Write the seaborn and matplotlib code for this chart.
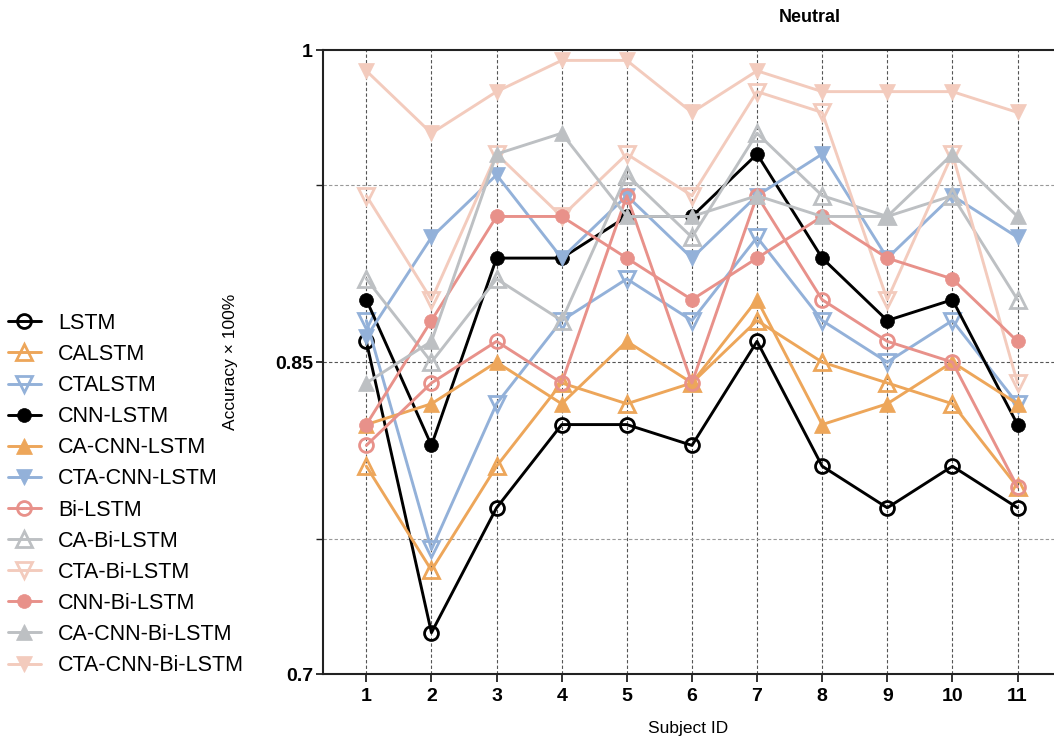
import numpy as np
import pandas as pd
import matplotlib
matplotlib.use("Agg")
import matplotlib.pyplot as plt
import seaborn as sns

subjects = [1, 2, 3, 4, 5, 6, 7, 8, 9, 10, 11]

models = ["LSTM", "CALSTM", "CTALSTM", "CNN-LSTM", "CA-CNN-LSTM", "CTA-CNN-LSTM",
          "Bi-LSTM", "CA-Bi-LSTM", "CTA-Bi-LSTM", "CNN-Bi-LSTM", "CA-CNN-Bi-LSTM",
          "CTA-CNN-Bi-LSTM"]

lstm = [0.86, 0.72, 0.78, 0.82, 0.82, 0.81, 0.86, 0.80, 0.78, 0.80, 0.78]
calstm = [0.80, 0.75, 0.80, 0.84, 0.83, 0.84, 0.87, 0.85, 0.84, 0.83, 0.79]
ctalstm = [0.87, 0.76, 0.83, 0.87, 0.89, 0.87, 0.91, 0.87, 0.85, 0.87, 0.83]
cnn_lstm = [0.88, 0.81, 0.90, 0.90, 0.92, 0.92, 0.95, 0.90, 0.87, 0.88, 0.82]
ca_cnn_lstm = [0.82, 0.83, 0.85, 0.83, 0.86, 0.84, 0.88, 0.82, 0.83, 0.85, 0.83]
cta_cnn_lstm = [0.862, 0.91, 0.94, 0.90, 0.93, 0.90, 0.93, 0.95, 0.90, 0.93, 0.91]
bi_lstm = [0.81, 0.84, 0.86, 0.84, 0.93, 0.84, 0.93, 0.88, 0.86, 0.85, 0.79]
ca_bi_lstm = [0.89, 0.85, 0.89, 0.87, 0.94, 0.91, 0.96, 0.93, 0.92, 0.93, 0.88]
cta_bi_lstm = [0.93, 0.88, 0.95, 0.92, 0.95, 0.93, 0.98, 0.97, 0.88, 0.95, 0.84]
cnn_bi_lstm = [0.82, 0.87, 0.92, 0.92, 0.90, 0.88, 0.90, 0.92, 0.90, 0.89, 0.86]
ca_cnn_bi_lstm = [0.84, 0.86, 0.95, 0.96, 0.92, 0.92, 0.93, 0.92, 0.92, 0.95, 0.92]
cta_cnn_bi_lstm = [0.99, 0.96, 0.98, 0.995, 0.995, 0.97, 0.99, 0.98, 0.98, 0.98, 0.97]

values = [lstm, calstm, ctalstm, cnn_lstm, ca_cnn_lstm, cta_cnn_lstm, bi_lstm,
          ca_bi_lstm, cta_bi_lstm, cnn_bi_lstm, ca_cnn_bi_lstm, cta_cnn_bi_lstm]

BLACK = "#000000"
ORANGE = "#EDA65A"
BLUE = "#93B1D9"
SALMON = "#E8918A"
GRAY = "#BDC0C3"
PEACH = "#F3CBBD"

colors = [BLACK, ORANGE, BLUE, BLACK, ORANGE, BLUE, SALMON, GRAY, PEACH, SALMON, GRAY, PEACH]
markers = ["o", "^", "v", "o", "^", "v", "o", "^", "v", "o", "^", "v"]
filled = [False, False, False, True, True, True, False, False, False, True, True, True]

df = pd.DataFrame({
    "Subject": subjects * len(models),
    "Accuracy": np.concatenate(values),
    "Model": np.repeat(models, len(subjects)),
})

sns.set_style("white")
plt.rcParams["font.family"] = ["Liberation Sans", "DejaVu Sans"]
plt.rcParams["text.color"] = "black"
plt.rcParams["axes.labelcolor"] = "black"
plt.rcParams["xtick.color"] = "black"
plt.rcParams["ytick.color"] = "black"

fig = plt.figure(figsize=(10.54, 7.38), dpi=100)
ax = fig.add_axes([322.7 / 1054, 1 - 674.3 / 738, 731.3 / 1054, 624.3 / 738])

for i, m in enumerate(models):
    sub = df[df["Model"] == m]
    c = colors[i]
    ms = 10 if markers[i] == "o" else 12
    sns.lineplot(data=sub, x="Subject", y="Accuracy", ax=ax, color=c, lw=2.1,
                 marker=markers[i], markersize=ms,
                 markerfacecolor=c if filled[i] else "none",
                 markeredgecolor=c, markeredgewidth=2.0 if not filled[i] else 0.5,
                 label=m, legend=False, zorder=3 + i)

# grid
for s in subjects:
    ax.axvline(s, color="#555555", lw=0.8, ls=(0, (3, 2)), zorder=1)
ax.axhline(0.85, color="#555555", lw=0.8, ls=(0, (3, 2)), zorder=1)
for yv in [0.935, 0.765]:
    ax.axhline(yv, color="#999999", lw=0.8, ls=(0, (3, 2)), zorder=1)

ax.set_xlim(0.33, 11.56)
ax.set_ylim(0.7, 1.0)
ax.set_xticks(subjects)
ax.set_xticklabels([str(s) for s in subjects], fontsize=14, fontweight="bold")
ax.set_yticks([0.7, 0.85, 1.0])
ax.set_yticklabels(["0.7", "0.85", "1"], fontsize=14, fontweight="bold")
ax.set_yticks([0.765, 0.935], minor=True)
ax.tick_params(axis="x", which="major", direction="out", length=6, width=1.3,
               color="#222222", pad=4, bottom=True)
ax.tick_params(axis="y", which="major", direction="out", length=5, width=1.3,
               color="#222222", pad=2, left=True)
ax.tick_params(axis="y", which="minor", direction="out", length=5, width=1.0,
               color="#222222", left=True)

for side in ["left", "bottom", "top"]:
    ax.spines[side].set_color("#222222")
    ax.spines[side].set_linewidth(1.5)
ax.spines["right"].set_visible(False)

ax.set_xlabel("Subject ID", fontsize=12.5)
ax.set_ylabel("Accuracy × 100%", fontsize=12.5)
ax.xaxis.set_label_coords(0.5, -0.075)
ax.yaxis.set_label_coords(-0.116, 0.5)

fig.text(810 / 1054, 1 - 18 / 738, "Neutral", fontsize=13, fontweight="bold",
         ha="center", va="center")

handles, labels = ax.get_legend_handles_labels()
fig.legend(handles, labels, loc="upper left", bbox_to_anchor=(4 / 1054, 1 - 308.5 / 738),
           frameon=False, fontsize=15.5, handlelength=1.5, handletextpad=0.8,
           labelspacing=0.47, borderaxespad=0, borderpad=0.2, numpoints=1)

fig.savefig("out.png", dpi=100)
